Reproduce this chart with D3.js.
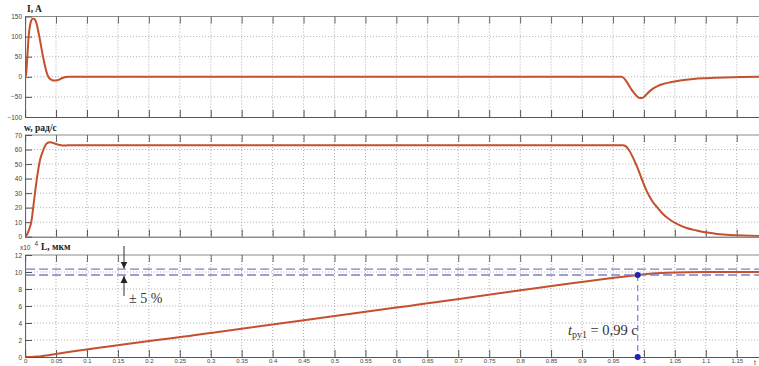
<!DOCTYPE html>
<html>
<head>
<meta charset="utf-8">
<script src="https://cdn.jsdelivr.net/npm/d3@7"></script>
<style>
  html, body { margin: 0; padding: 0; background: #fff; }
  svg { display: block; }
  .tick text { font-family: "Liberation Sans", Arial, sans-serif; fill: #444; }
  .title { font-family: "Liberation Serif", "Times New Roman", serif; font-weight: bold; fill: #222; }
  .note { font-family: "Liberation Serif", "Times New Roman", serif; fill: #333; }
</style>
</head>
<body>
<script>
// Time axis (seconds) and tick labels
const timeTicks = [0, 0.05, 0.1, 0.15, 0.2, 0.25, 0.3, 0.35, 0.4, 0.45, 0.5, 0.55, 0.6,
  0.65, 0.7, 0.75, 0.8, 0.85, 0.9, 0.95, 1, 1.05, 1.1, 1.15];

// Armature current I, A
const currentT = [0, 0.0015, 0.004, 0.006, 0.008, 0.010, 0.013, 0.016, 0.019, 0.021, 0.023,
  0.026, 0.029, 0.032, 0.035, 0.038, 0.042, 0.046, 0.050, 0.055, 0.060, 0.066, 0.070,
  0.964, 0.968, 0.972, 0.976, 0.980, 0.984, 0.988, 0.991, 0.994, 0.997, 1.000, 1.004,
  1.010, 1.016, 1.022, 1.030, 1.040, 1.052, 1.065, 1.080, 1.100, 1.130, 1.160, 1.200];
const currentI = [0, 5, 60, 105, 128, 140, 145, 142, 130, 115, 100,
  75, 50, 28, 10, -1, -7, -9, -9, -7, -3, -0.5, 0,
  0, -4, -12, -22, -32, -40, -47, -51, -53, -53, -50, -44,
  -35, -28, -23, -18.5, -14.5, -11, -8, -5.5, -3.5, -1.5, -0.5, 0];
const currentTicks = [-100, -50, 0, 50, 100, 150];

// Angular speed w, rad/s
const speedT = [0, 0.0025, 0.0057, 0.0106, 0.0133, 0.0187, 0.0241, 0.0295, 0.035, 0.0404,
  0.045, 0.050, 0.055, 0.060, 0.066, 0.075,
  0.966, 0.971, 0.976, 0.980, 0.985, 0.990, 0.995, 1.000, 1.005, 1.010, 1.016, 1.021,
  1.030, 1.042, 1.055, 1.069, 1.085, 1.099, 1.115, 1.134, 1.160, 1.200];
const speedW = [0, 1, 4, 11.6, 20.8, 39, 52.8, 59.7, 64.3, 65,
  64.6, 63.8, 63.2, 62.8, 62.8, 63,
  63, 62.2, 59.5, 56.5, 52, 47, 41.5, 36, 31, 27, 23, 20.5,
  16, 11.7, 8.5, 6, 4.3, 3, 2.1, 1.4, 0.8, 0.4];
const speedTicks = [0, 10, 20, 30, 40, 50, 60, 70];

// Travel L, x10^4 um
const travelT = [0, 0.01, 0.02, 0.03, 0.04, 0.05, 0.3, 0.6, 0.966, 0.975, 0.99, 1.0,
  1.01, 1.02, 1.03, 1.05, 1.07, 1.1, 1.15, 1.2];
const travelL = [0, 0.008, 0.055, 0.14, 0.24, 0.35, 2.83, 5.81, 9.44, 9.52, 9.65, 9.73,
  9.8, 9.85, 9.89, 9.94, 9.97, 9.99, 10.0, 10.0];
const travelTicks = [0, 2, 4, 6, 8, 10, 12];

// Settling band and settling time
const bandLevels = [9.65, 10.35];
const settleTime = 0.99;
const settleLabel = { main: "t", sub: "ру1", rest: " = 0,99 с" };
const bandLabel = "± 5 %";

const W = 759, H = 366;
const svg = d3.select("body").append("svg").attr("width", W).attr("height", H);

const x = d3.scaleLinear().domain([0, 1.2]).range([25.1, 25.1 + 618.8 * 1.2]);
const xLeft = x(0), xRight = x(1.2);
const fmt = v => String(+v.toFixed(2));

const panels = [
  { id: "i", t: currentT, v: currentI, ticks: currentTicks, domain: [-100, 150], range: [117, 16.5],
    title: [{ text: "I, A", x: 27, y: 12, size: 9.5 }] },
  { id: "w", t: speedT, v: speedW, ticks: speedTicks, domain: [0, 70], range: [236.7, 135],
    title: [{ text: "w, рад/с", x: 24, y: 130.5, size: 9.5 }] },
  { id: "l", t: travelT, v: travelL, ticks: travelTicks, domain: [0, 12], range: [357, 255],
    title: [] }
];

panels.forEach((p, idx) => {
  const y = d3.scaleLinear().domain(p.domain).range(p.range);
  p.y = y;
  const g = svg.append("g");
  const top = p.range[1], bot = p.range[0];

  // dotted grid
  g.append("g").selectAll("line").data(timeTicks.slice(1)).join("line")
    .attr("x1", d => x(d)).attr("x2", d => x(d)).attr("y1", top).attr("y2", bot)
    .attr("stroke", "#9a9a9a").attr("stroke-width", 0.8).attr("stroke-dasharray", "1,2");
  g.append("g").selectAll("line").data(p.ticks.slice(1, -1)).join("line")
    .attr("x1", xLeft).attr("x2", xRight).attr("y1", d => y(d)).attr("y2", d => y(d))
    .attr("stroke", "#9a9a9a").attr("stroke-width", 0.8).attr("stroke-dasharray", "1,2");

  // box
  g.append("line").attr("x1", xLeft).attr("x2", xRight).attr("y1", top).attr("y2", top)
    .attr("stroke", "#8a8a8a").attr("stroke-width", 1);

  // bottom axis (ticks inward)
  const bottom = d3.axisBottom(x).tickValues(timeTicks).tickSizeInner(-7).tickSizeOuter(0)
    .tickPadding(2).tickFormat(idx === 2 ? fmt : () => "");
  const gb = g.append("g").attr("transform", `translate(0,${bot})`).call(bottom);
  gb.select(".domain").attr("stroke", "#555");
  gb.selectAll(".tick line").attr("stroke", "#555");
  gb.selectAll(".tick text").attr("font-size", 6);

  // top ticks
  const topAx = d3.axisTop(x).tickValues(timeTicks).tickSizeInner(-7).tickSizeOuter(0).tickFormat(() => "");
  const gt = g.append("g").attr("transform", `translate(0,${top})`).call(topAx);
  gt.select(".domain").remove();
  gt.selectAll(".tick line").attr("stroke", "#666");

  // left axis (ticks inward)
  const left = d3.axisLeft(y).tickValues(p.ticks).tickSizeInner(-7).tickSizeOuter(0).tickPadding(3);
  const gl = g.append("g").attr("transform", `translate(${xLeft},0)`).call(left);
  gl.select(".domain").attr("stroke", "#555");
  gl.selectAll(".tick line").attr("stroke", "#555");
  gl.selectAll(".tick text").attr("font-size", 6.5);

  // curve
  const clipId = "clip-" + p.id;
  svg.append("clipPath").attr("id", clipId).append("rect")
    .attr("x", xLeft).attr("y", top - 2).attr("width", xRight - xLeft).attr("height", bot - top + 2);
  const line = d3.line().x((d, i) => x(p.t[i])).y(d => y(d)).curve(d3.curveMonotoneX);
  g.append("path").datum(p.v).attr("d", line).attr("clip-path", `url(#${clipId})`)
    .attr("fill", "none").attr("stroke", "#c4502e").attr("stroke-width", 2)
    .attr("stroke-linejoin", "round");

  p.title.forEach(tt => {
    g.append("text").attr("class", "title").attr("x", tt.x).attr("y", tt.y)
      .attr("font-size", tt.size).text(tt.text);
  });
  p.g = g;
});

// Travel panel title with exponent
const pl = panels[2];
pl.g.append("text").attr("x", 20).attr("y", 250).attr("font-family", "Liberation Sans, Arial, sans-serif")
  .attr("font-size", 6.5).attr("fill", "#444").text("x10");
pl.g.append("text").attr("x", 34.5).attr("y", 245.5).attr("font-family", "Liberation Sans, Arial, sans-serif")
  .attr("font-size", 6.5).attr("fill", "#444").text("4");
pl.g.append("text").attr("class", "title").attr("x", 41).attr("y", 250).attr("font-size", 9.5).text("L, мкм");

// settling band, dashed
const yl = pl.y;
const band = pl.g.append("g");
band.selectAll("line").data(bandLevels).join("line")
  .attr("x1", xLeft + 1).attr("x2", xRight).attr("y1", d => yl(d)).attr("y2", d => yl(d))
  .attr("stroke", "#7f7fc4").attr("stroke-width", 1.3).attr("stroke-dasharray", "9,4");

// vertical line at settling time
band.append("line").attr("x1", x(settleTime)).attr("x2", x(settleTime))
  .attr("y1", yl(bandLevels[0])).attr("y2", yl(0))
  .attr("stroke", "#8a8ad0").attr("stroke-width", 1.3).attr("stroke-dasharray", "6,4");
band.selectAll("circle").data([bandLevels[0], 0]).join("circle")
  .attr("cx", x(settleTime)).attr("cy", d => yl(d)).attr("r", 3).attr("fill", "#1b22b5");

// band arrows
const ax = 124;
const defs = svg.append("defs");
defs.append("marker").attr("id", "arr").attr("viewBox", "0 0 10 10").attr("refX", 10).attr("refY", 5)
  .attr("markerWidth", 7).attr("markerHeight", 8).attr("markerUnits", "userSpaceOnUse")
  .attr("orient", "auto").append("path").attr("d", "M0,0 L10,5 L0,10 Z").attr("fill", "#222");
pl.g.append("line").attr("x1", ax).attr("x2", ax).attr("y1", 246).attr("y2", yl(bandLevels[1]) - 0.5)
  .attr("stroke", "#333").attr("stroke-width", 1).attr("marker-end", "url(#arr)");
pl.g.append("line").attr("x1", ax).attr("x2", ax).attr("y1", 296).attr("y2", yl(bandLevels[0]) + 1)
  .attr("stroke", "#333").attr("stroke-width", 1).attr("marker-end", "url(#arr)");
pl.g.append("text").attr("class", "note").attr("x", 129).attr("y", 303).attr("font-size", 14).text(bandLabel);

// settling time label
const st = pl.g.append("text").attr("class", "note").attr("x", 568).attr("y", 335).attr("font-size", 14.5);
st.append("tspan").attr("font-style", "italic").text(settleLabel.main);
st.append("tspan").attr("font-size", 10).attr("dy", 3).text(settleLabel.sub);
st.append("tspan").attr("dy", -3).text(settleLabel.rest);

// time axis label
pl.g.append("text").attr("x", 754).attr("y", 365).attr("font-family", "Liberation Sans, Arial, sans-serif")
  .attr("font-size", 6.5).attr("fill", "#444").text("t");
</script>
</body>
</html>
